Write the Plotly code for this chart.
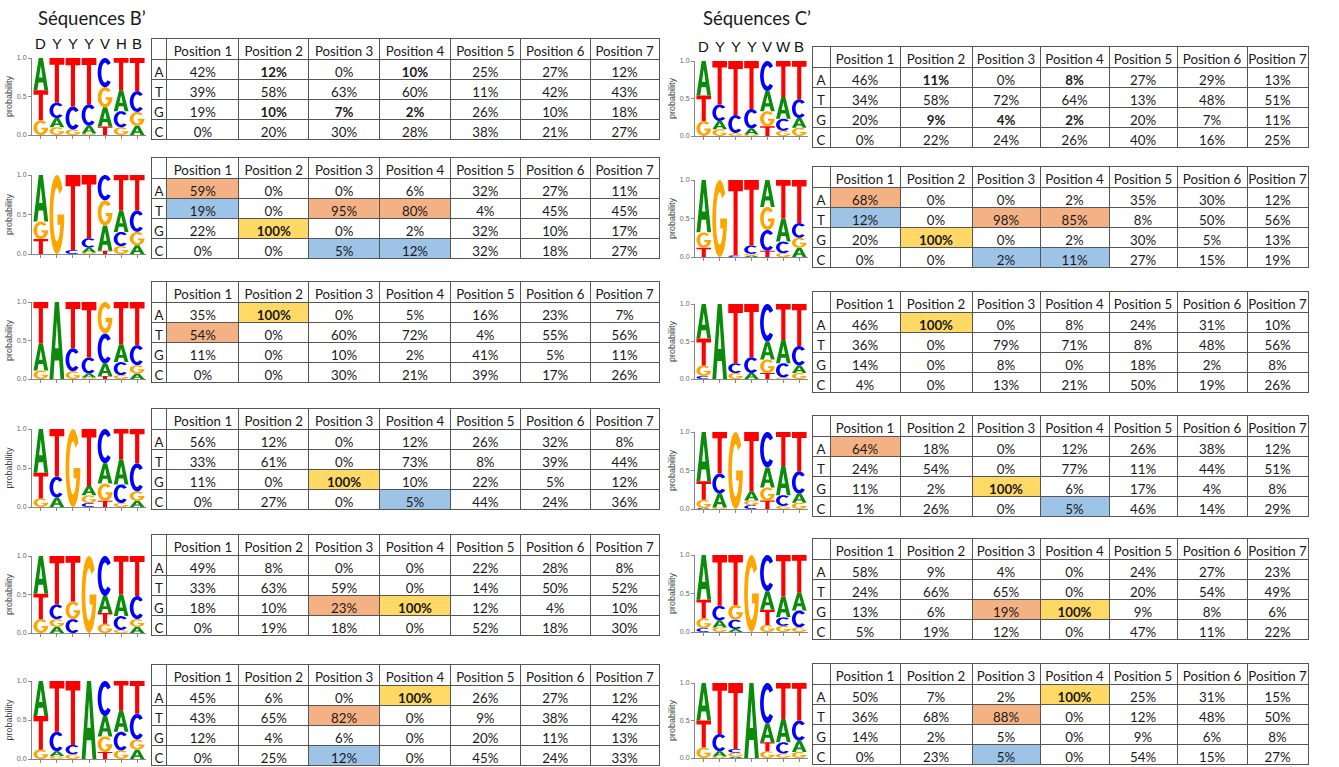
import numpy as np
import plotly.graph_objects as go

# ---------------------------------------------------------------- data
NUCS = ["A", "T", "G", "C"]
POSITIONS = [f"Position {i}" for i in range(1, 8)]
IUPAC_B = ["D", "Y", "Y", "Y", "V", "H", "B"]
IUPAC_C = ["D", "Y", "Y", "Y", "V", "W", "B"]

# percentages, rows in order A, T, G, C ; columns = positions 1..7
B1 = [[42, 12, 0, 10, 25, 27, 12], [39, 58, 63, 60, 11, 42, 43],
      [19, 10, 7, 2, 26, 10, 18], [0, 20, 30, 28, 38, 21, 27]]
B2 = [[59, 0, 0, 6, 32, 27, 11], [19, 0, 95, 80, 4, 45, 45],
      [22, 100, 0, 2, 32, 10, 17], [0, 0, 5, 12, 32, 18, 27]]
B3 = [[35, 100, 0, 5, 16, 23, 7], [54, 0, 60, 72, 4, 55, 56],
      [11, 0, 10, 2, 41, 5, 11], [0, 0, 30, 21, 39, 17, 26]]
B4 = [[56, 12, 0, 12, 26, 32, 8], [33, 61, 0, 73, 8, 39, 44],
      [11, 0, 100, 10, 22, 5, 12], [0, 27, 0, 5, 44, 24, 36]]
B5 = [[49, 8, 0, 0, 22, 28, 8], [33, 63, 59, 0, 14, 50, 52],
      [18, 10, 23, 100, 12, 4, 10], [0, 19, 18, 0, 52, 18, 30]]
B6 = [[45, 6, 0, 100, 26, 27, 12], [43, 65, 82, 0, 9, 38, 42],
      [12, 4, 6, 0, 20, 11, 13], [0, 25, 12, 0, 45, 24, 33]]

C1 = [[46, 11, 0, 8, 27, 29, 13], [34, 58, 72, 64, 13, 48, 51],
      [20, 9, 4, 2, 20, 7, 11], [0, 22, 24, 26, 40, 16, 25]]
C2 = [[68, 0, 0, 2, 35, 30, 12], [12, 0, 98, 85, 8, 50, 56],
      [20, 100, 0, 2, 30, 5, 13], [0, 0, 2, 11, 27, 15, 19]]
C3 = [[46, 100, 0, 8, 24, 31, 10], [36, 0, 79, 71, 8, 48, 56],
      [14, 0, 8, 0, 18, 2, 8], [4, 0, 13, 21, 50, 19, 26]]
C4 = [[64, 18, 0, 12, 26, 38, 12], [24, 54, 0, 77, 11, 44, 51],
      [11, 2, 100, 6, 17, 4, 8], [1, 26, 0, 5, 46, 14, 29]]
C5 = [[58, 9, 4, 0, 24, 27, 23], [24, 66, 65, 0, 20, 54, 49],
      [13, 6, 19, 100, 9, 8, 6], [5, 19, 12, 0, 47, 11, 22]]
C6 = [[50, 7, 2, 100, 25, 31, 15], [36, 68, 88, 0, 12, 48, 50],
      [14, 2, 5, 0, 9, 6, 8], [0, 23, 5, 0, 54, 15, 27]]

# highlighted cells: (nucleotide, position, kind)
HL_B1 = []
HL_B2 = [("A", 1, "orange"), ("T", 1, "blue"), ("T", 3, "orange"), ("T", 4, "orange"),
         ("G", 2, "yellow"), ("C", 3, "blue"), ("C", 4, "blue")]
HL_B3 = [("A", 2, "yellow"), ("T", 1, "orange")]
HL_B4 = [("G", 3, "yellow"), ("C", 4, "blue")]
HL_B5 = [("G", 3, "orange"), ("G", 4, "yellow")]
HL_B6 = [("A", 4, "yellow"), ("T", 3, "orange"), ("C", 3, "blue")]
HL_C1 = []
HL_C2 = [("A", 1, "orange"), ("T", 1, "blue"), ("T", 3, "orange"), ("T", 4, "orange"),
         ("G", 2, "yellow"), ("C", 3, "blue"), ("C", 4, "blue")]
HL_C3 = [("A", 2, "yellow")]
HL_C4 = [("A", 1, "orange"), ("G", 3, "yellow"), ("C", 4, "blue")]
HL_C5 = [("G", 3, "orange"), ("G", 4, "yellow")]
HL_C6 = [("A", 4, "yellow"), ("T", 3, "orange"), ("C", 3, "blue")]

# bold cells: (nucleotide, position)
BOLD_B1 = [("A", 2), ("A", 4), ("G", 2), ("G", 3), ("G", 4)]
BOLD_C1 = [("A", 2), ("A", 4), ("G", 2), ("G", 3), ("G", 4)]

# ---------------------------------------------------------------- styling
W, H = 1339, 767
FILL = {"orange": "#F4B183", "blue": "#9DC3E6", "yellow": "#FFD966"}
LETTER_COLOR = {"A": "#0a8c0a", "T": "#ff0000", "G": "#ffa500", "C": "#0000ff"}
TABLE_FONT = "Lato"
FONT_SIZE = 13.3
TEXT_COLOR = "#1a1a1a"
GRID = "#555555"
CLEAR = "rgba(0,0,0,0)"
LEFT_COL_W = [16, 72, 70, 71, 71, 70, 70, 69]
RIGHT_COL_W = [18, 70, 72, 68, 69, 68, 70, 61]


def px(x):
    return x / W


def py(y):
    return 1 - y / H


# panel geometry (pixels): table (x0, x1, top), logo (x0, x1, y_one, y_zero)
LEFT_TABLE_X = (151, 660)
RIGHT_TABLE_X = (812, 1308)
LEFT_LOGO_X = (32, 146)
RIGHT_LOGO_X = (695, 808)
LEFT_TABLE_TOP = [38, 157, 281, 408, 534, 664]
RIGHT_TABLE_TOP = [46, 166, 291, 415, 538, 663]
LEFT_LOGO_Y = [(58, 135), (175, 254), (302, 379), (429, 507), (556, 633), (681, 759)]
RIGHT_LOGO_Y = [(61, 136), (180, 257), (304, 379), (432, 509), (555, 632), (683, 758)]

panels = []
for i, (m, hl, bold) in enumerate([(B1, HL_B1, BOLD_B1), (B2, HL_B2, []), (B3, HL_B3, []),
                                   (B4, HL_B4, []), (B5, HL_B5, []), (B6, HL_B6, [])]):
    panels.append(dict(m=m, hl=hl, bold=bold, tx=LEFT_TABLE_X, ttop=LEFT_TABLE_TOP[i],
                       cw=LEFT_COL_W, lx=LEFT_LOGO_X, ly=LEFT_LOGO_Y[i],
                       iupac=IUPAC_B if i == 0 else None))
for i, (m, hl, bold) in enumerate([(C1, HL_C1, BOLD_C1), (C2, HL_C2, []), (C3, HL_C3, []),
                                   (C4, HL_C4, []), (C5, HL_C5, []), (C6, HL_C6, [])]):
    panels.append(dict(m=m, hl=hl, bold=bold, tx=RIGHT_TABLE_X, ttop=RIGHT_TABLE_TOP[i],
                       cw=RIGHT_COL_W, lx=RIGHT_LOGO_X, ly=RIGHT_LOGO_Y[i],
                       iupac=IUPAC_C if i == 0 else None))


# ---------------------------------------------------------------- glyph outlines (unit box)
def arc(rx, ry, a0, a1, n=36):
    t = np.radians(np.linspace(a0, a1, n))
    return list(zip(0.5 + rx * np.cos(t), 0.5 + ry * np.sin(t)))


GLYPHS = {
    "A": [[(0, 0), (0.36, 1), (0.64, 1), (1, 0), (0.74, 0), (0.655, 0.24), (0.345, 0.24), (0.26, 0)],
          [(0.385, 0.40), (0.615, 0.40), (0.5, 0.76)]],
    "T": [[(0, 1), (1, 1), (1, 0.85), (0.64, 0.85), (0.64, 0), (0.36, 0), (0.36, 0.85), (0, 0.85)]],
    "C": [arc(0.5, 0.5, 40, 320) + arc(0.25, 0.34, 310, 50)],
    "G": [arc(0.5, 0.5, 40, 360) + [(0.54, 0.5), (0.54, 0.37), (0.74, 0.37)]
          + arc(0.25, 0.34, 333, 50)],
}
LETTER_W = 0.92


def glyph_path(letter, xc, y0, h):
    parts = []
    for poly in GLYPHS[letter]:
        pts = [f"{xc + (u - 0.5) * LETTER_W:.4f},{y0 + v * h:.5f}" for u, v in poly]
        parts.append("M" + "L".join(pts) + "Z")
    return "".join(parts)


# ---------------------------------------------------------------- figure
fig = go.Figure()
layout_axes = {}
shapes = []
annotations = []

for k, p in enumerate(panels):
    n = k + 1
    xs = "x" if n == 1 else f"x{n}"
    ys = "y" if n == 1 else f"y{n}"
    xa = "xaxis" if n == 1 else f"xaxis{n}"
    ya = "yaxis" if n == 1 else f"yaxis{n}"
    lx0, lx1 = p["lx"]
    y1px, y0px = p["ly"]
    layout_axes[xa] = dict(domain=[px(lx0), px(lx1)], anchor=ys, range=[0.45, 7.55],
                           tickvals=list(range(1, 8)), showticklabels=False,
                           ticks="outside", ticklen=3, tickcolor="#888",
                           showline=True, linecolor="#888", linewidth=1, automargin=False,
                           showgrid=False, zeroline=False, fixedrange=True)
    layout_axes[ya] = dict(domain=[py(y0px), py(y1px)], anchor=xs, range=[0, 1],
                           tickvals=[0, 0.5, 1], ticktext=["0.0", "0.5", "1.0"],
                           ticks="outside", ticklen=3, tickcolor="#888",
                           tickfont=dict(size=7, color="#666", family="Liberation Sans"),
                           showline=True, linecolor="#888", linewidth=1, automargin=False,
                           showgrid=False, zeroline=False, fixedrange=True,
                           title=dict(text="probability", standoff=2,
                                      font=dict(size=9, color="#444", family="Liberation Sans")))
    # anchor trace so the subplot gets drawn
    fig.add_trace(go.Scatter(x=list(range(1, 8)), y=[0] * 7, mode="markers",
                             marker=dict(opacity=0), hoverinfo="skip",
                             showlegend=False, xaxis=xs, yaxis=ys))

    # stacked letters: smallest at the bottom, largest on top
    m = p["m"]
    for j in range(7):
        col = sorted([(m[r][j] / 100.0, NUCS[r]) for r in range(4)], key=lambda t: t[0])
        base = 0.0
        for prob, nuc in col:
            if prob > 0:
                shapes.append(dict(type="path", path=glyph_path(nuc, j + 1, base, prob),
                                   xref=xs, yref=ys, fillcolor=LETTER_COLOR[nuc],
                                   line=dict(width=0), fillrule="evenodd", layer="above"))
            base += prob

    if p["iupac"]:
        for j, ch in enumerate(p["iupac"]):
            annotations.append(dict(x=j + 1, y=1.19, xref=xs, yref=f"{ys} domain", text=ch,
                                    showarrow=False,
                                    font=dict(size=15, color="#111", family="Liberation Sans"),
                                    xanchor="center", yanchor="middle"))

    # table: regular values in the base table, bold values in a transparent overlay table
    hl = {(nuc, pos): kind for nuc, pos, kind in p["hl"]}
    bold = set(p["bold"]) | {(nuc, pos) for nuc, pos, kind in p["hl"] if kind == "yellow"}
    values, bold_values = [NUCS], [[""] * 4]
    fills = [["white"] * 4]
    for j in range(7):
        cv, cb, cf = [], [], []
        for r in range(4):
            key = (NUCS[r], j + 1)
            txt = f"{m[r][j]}%"
            cv.append("" if key in bold else txt)
            cb.append(txt if key in bold else "")
            cf.append(FILL[hl[key]] if key in hl else "white")
        values.append(cv)
        bold_values.append(cb)
        fills.append(cf)
    tx0, tx1 = p["tx"]
    top = p["ttop"]
    bottom = min(top + 103, H)
    dom = dict(x=[px(tx0), px(tx1)], y=[py(bottom), py(top)])
    header_vals = [""] + [s.replace(" ", "\u00a0") for s in POSITIONS]
    fig.add_trace(go.Table(
        domain=dom, columnwidth=p["cw"],
        header=dict(values=header_vals, height=21, fill_color="white",
                    line=dict(color=GRID, width=1),
                    font=dict(family=TABLE_FONT, size=FONT_SIZE, color=TEXT_COLOR),
                    align="center"),
        cells=dict(values=values, height=20, fill_color=fills,
                   line=dict(color=GRID, width=1),
                   font=dict(family=TABLE_FONT, size=FONT_SIZE, color=TEXT_COLOR),
                   align="center"),
    ))
    if bold:
        fig.add_trace(go.Table(
            domain=dom, columnwidth=p["cw"],
            header=dict(values=[""] * 8, height=21, fill_color=CLEAR,
                        line=dict(color=CLEAR, width=0)),
            cells=dict(values=bold_values, height=20, fill_color=CLEAR,
                       line=dict(color=CLEAR, width=0),
                       font=dict(family=TABLE_FONT, size=FONT_SIZE, color=TEXT_COLOR,
                                 weight="bold"),
                       align="center"),
        ))

# panel titles
for text, x in [("Séquences B’", 36), ("Séquences C’", 701)]:
    annotations.append(dict(x=px(x), y=py(18), xref="paper", yref="paper", text=text,
                            showarrow=False, xanchor="left", yanchor="middle",
                            font=dict(size=18.5, color="#1a1a1a", family="Lato")))

fig.update_layout(width=W, height=H, margin=dict(l=0, r=0, t=0, b=0),
                  paper_bgcolor="white", plot_bgcolor="white", showlegend=False,
                  shapes=shapes, annotations=annotations, **layout_axes)

fig.write_html("out.html", config={"displayModeBar": False})
